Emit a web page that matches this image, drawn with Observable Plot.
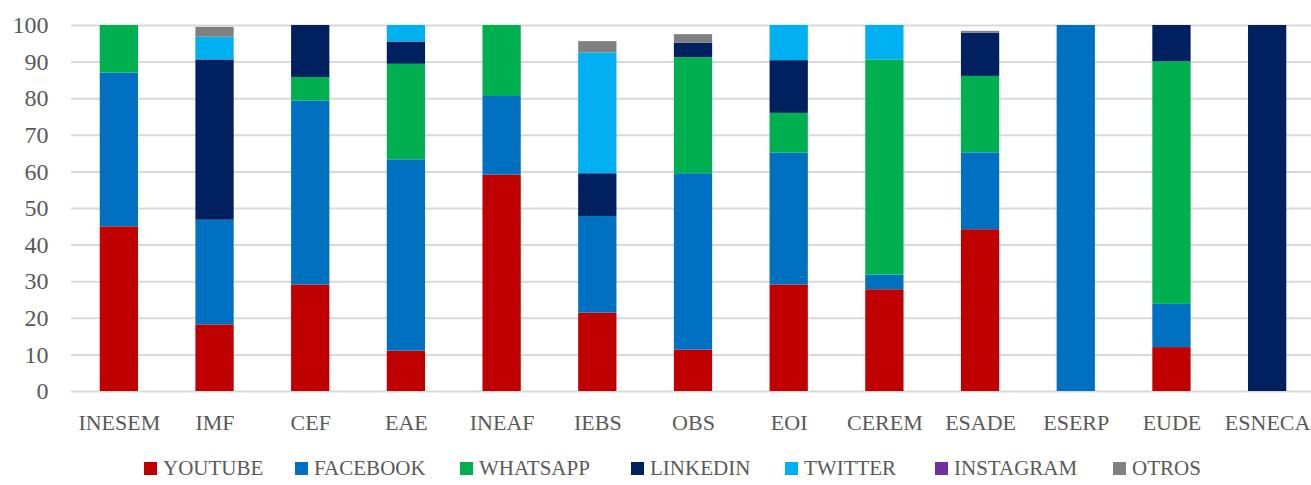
<!DOCTYPE html>
<html>
<head>
<meta charset="utf-8">
<script src="https://cdn.jsdelivr.net/npm/d3@7"></script>
<script src="https://cdn.jsdelivr.net/npm/@observablehq/plot@0.6"></script>
<style>
  html, body { margin: 0; padding: 0; background: #fff; overflow: hidden; }
  #chart { width: 1311px; }
  .legend {
    position: relative;
    height: 37px;
    font-family: "Liberation Serif", "DejaVu Serif", serif;
    font-size: 21px;
    color: #595959;
  }
  .legend .item { position: absolute; top: 8px; display: flex; align-items: center; white-space: nowrap; }
  .legend .sw { width: 13px; height: 13px; margin-right: 6px; display: inline-block; }
</style>
</head>
<body>
<div id="chart"></div>
<script>
// Schools (x categories)
const schools = ["INESEM", "IMF", "CEF", "EAE", "INEAF", "IEBS", "OBS", "EOI", "CEREM", "ESADE", "ESERP", "EUDE", "ESNECA"];

// Share of each channel per school (%)
const youtube   = [45.0, 18.2, 29.1, 11.0, 59.1, 21.4, 11.3, 29.1, 27.8, 44.2,   0, 12.0,   0];
const facebook  = [42.0, 28.6, 50.3, 52.3, 21.5, 26.4, 48.2, 36.0,  4.0, 21.0, 100, 11.8,   0];
const whatsapp  = [13.0,    0,  6.4, 26.1, 19.4,    0, 31.7, 10.9, 58.8, 20.9,   0, 66.3,   0];
const linkedin  = [   0, 43.8, 14.2,  6.1,    0, 11.7,  4.0, 14.4,    0, 11.8,   0,  9.9, 100];
const twitter   = [   0,  6.2,    0,  4.5,    0, 33.0,    0,  9.6,  9.4,    0,   0,    0,   0];
const instagram = [   0,    0,    0,    0,    0,    0,    0,    0,    0,    0,   0,    0,   0];
const otros     = [   0,  2.7,    0,    0,    0,  3.1,  2.3,    0,    0,  0.5,   0,    0,   0];

const seriesNames  = ["YOUTUBE", "FACEBOOK", "WHATSAPP", "LINKEDIN", "TWITTER", "INSTAGRAM", "OTROS"];
const seriesValues = [youtube, facebook, whatsapp, linkedin, twitter, instagram, otros];
const seriesColors = ["#C00000", "#0070C0", "#00B050", "#002060", "#00B0F0", "#7030A0", "#808080"];

const yTicks = d3.range(0, 101, 10);

// Long table, built category by category so each stack goes YOUTUBE (bottom) to OTROS (top)
const rows = [];
schools.forEach((s, i) => {
  seriesNames.forEach((name, k) => {
    rows.push({school: s, channel: name, value: seriesValues[k][i]});
  });
});

const font = `"Liberation Serif", "DejaVu Serif", serif`;

const chart = Plot.plot({
  width: 1311,
  height: 448,
  marginTop: 25,
  marginBottom: 57,
  marginLeft: 71,
  marginRight: -4,
  style: {fontFamily: font, color: "#595959", background: "#fff"},
  x: {domain: schools, paddingInner: 0.6, paddingOuter: 0.3, round: false, label: null},
  y: {domain: [0, 100], label: null},
  color: {domain: seriesNames, range: seriesColors},
  marks: [
    Plot.gridY(yTicks, {stroke: "#d9d9d9", strokeWidth: 2, strokeOpacity: 1}),
    Plot.barY(rows, {x: "school", y: "value", fill: "channel", order: null}),
    Plot.axisX({tickSize: 0, tickPadding: 23, fontSize: 22, fill: "#595959", label: null}),
    Plot.axisY({ticks: yTicks, tickSize: 0, tickPadding: 23, fontSize: 24, fill: "#595959", label: null})
  ]
});
document.getElementById("chart").appendChild(chart);

// Legend below the plot
const legendLeft = [144, 295, 460, 631, 785, 935, 1113];
const legend = document.createElement("div");
legend.className = "legend";
seriesNames.forEach((name, k) => {
  const item = document.createElement("div");
  item.className = "item";
  item.style.left = legendLeft[k] + "px";
  const sw = document.createElement("span");
  sw.className = "sw";
  sw.style.background = seriesColors[k];
  item.appendChild(sw);
  item.appendChild(document.createTextNode(name));
  legend.appendChild(item);
});
document.getElementById("chart").appendChild(legend);
</script>
</body>
</html>
